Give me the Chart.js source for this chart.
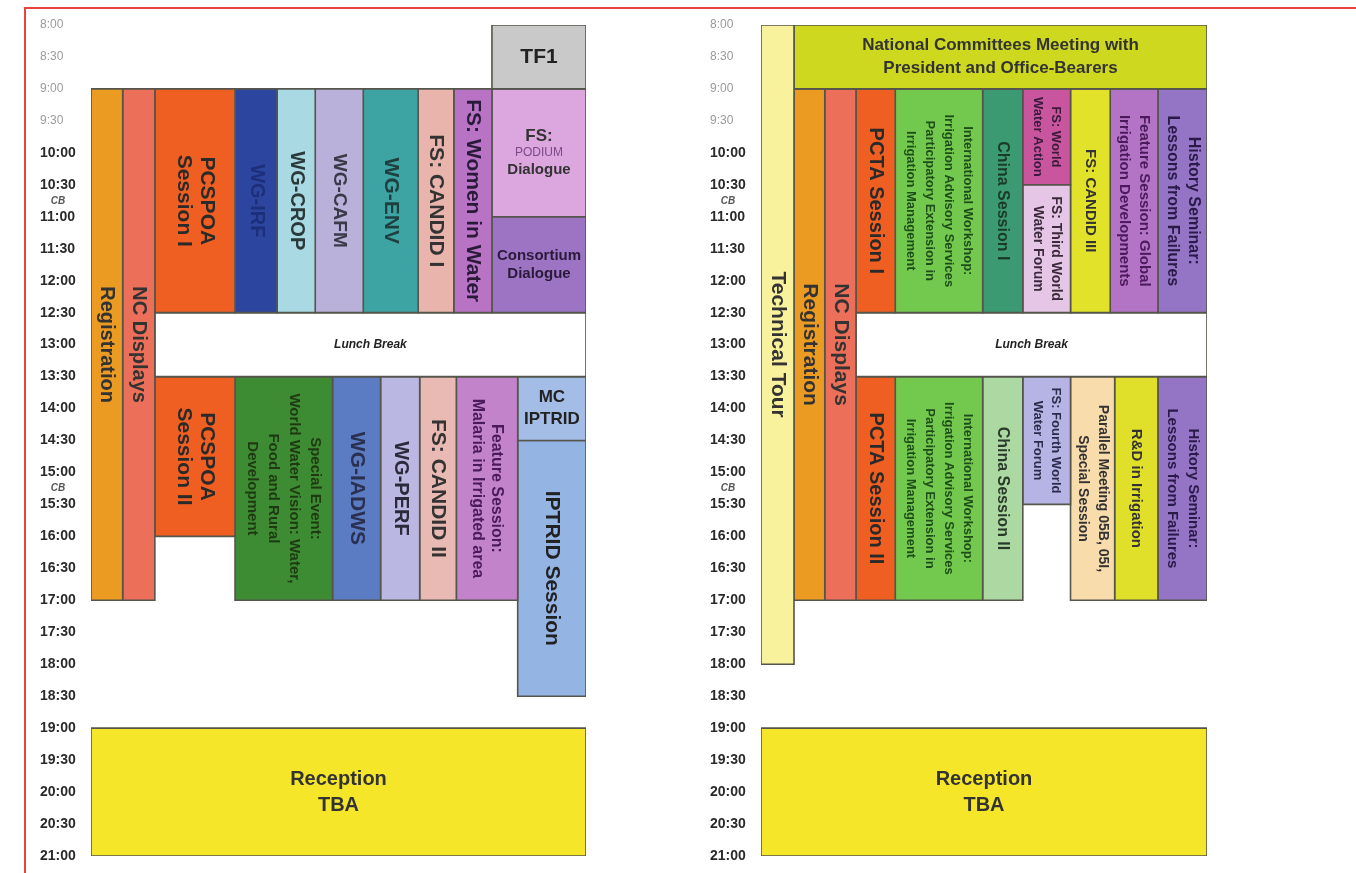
<!DOCTYPE html>
<html>
<head>
<meta charset="utf-8">
<title>Congress programme</title>
<script src="https://cdn.jsdelivr.net/npm/chart.js@4.4.1/dist/chart.umd.min.js"></script>
<style>
    html, body { margin: 0 ; padding: 0 ; background: #ffffff ; }
    body { width: 1356px ; height: 873px ; position: relative ; overflow: hidden ; }
    #frame { position: absolute ; left: 24px ; top: 7px ; width: 1340px ; height: 880px ;
             border-top: 2px solid #e5453b ; border-left: 2px solid #e5453b ; }
    .panel { position: absolute ; top: 5px ; height: 860px ; }
    #leftPanel  { left: 28px  ; width: 562px ; }
    #rightPanel { left: 698px ; width: 513px ; }
</style>
</head>
<body>
<div id="frame"></div>
<div class="panel" id="leftPanel"><canvas id="leftCanvas"></canvas></div>
<div class="panel" id="rightPanel"><canvas id="rightCanvas"></canvas></div>
<script>

// ---------------- Schedule data ----------------------------------------------
// Times are decimal hours, columns are percent of the day's width.
var dayStart = 8 ;
var dayEnd   = 21 ;
var coffeeBreaks = [ 10.75, 15.25 ] ;

// --- Day one (left)
var leftSessions = [
    'TF1', 'Registration', 'NC Displays', 'PCSPOA\nSession I', 'WG-IRF',
    'WG-CROP', 'WG-CAFM', 'WG-ENV', 'FS: CANDID I', 'FS: Women in Water',
    'FS:\nPODIUM\nDialogue', 'Consortium\nDialogue', 'Lunch Break', 'PCSPOA\nSession II',
    'Special Event:\nWorld Water Vision: Water,\nFood and Rural\nDevelopment',
    'WG-IADWS', 'WG-PERF', 'FS: CANDID II', 'Feature Session:\nMalaria in Irrigated area',
    'MC\nIPTRID', 'IPTRID Session', 'Reception\nTBA'
] ;
var leftStart = [ 8, 9, 9, 9, 9, 9, 9, 9, 9, 9, 9, 11, 12.5, 13.5, 13.5, 13.5, 13.5, 13.5, 13.5, 13.5, 14.5, 19 ] ;
var leftEnd   = [ 9, 17, 17, 12.5, 12.5, 12.5, 12.5, 12.5, 12.5, 12.5, 11, 12.5, 13.5, 16, 17, 17, 17, 17, 17, 14.5, 18.5, 21 ] ;
var leftFrom  = [ 81.0, 0, 6.4, 12.9, 29.1, 37.6, 45.3, 55.0, 66.1, 73.3, 81.0, 81.0, 12.9, 12.9, 29.1, 48.8, 58.5, 66.4, 73.8, 86.2, 86.2, 0 ] ;
var leftTo    = [ 100, 6.4, 12.9, 29.1, 37.6, 45.3, 55.0, 66.1, 73.3, 81.0, 100, 100, 100, 29.1, 48.8, 58.5, 66.4, 73.8, 86.2, 100, 100, 100 ] ;

// --- Day two (right)
var workshop = 'International Workshop:\nIrrigation Advisory Services\nParticipatory Extension in\nIrrigation Management' ;
var rightSessions = [
    'Technical Tour', 'National Committees Meeting with\nPresident and Office-Bearers',
    'Registration', 'NC Displays', 'PCTA Session I', workshop, 'China Session I',
    'FS: World\nWater Action', 'FS: Third World\nWater Forum', 'FS: CANDID III',
    'Feature Session: Global\nIrrigation Developments', 'History Seminar:\nLessons from Failures',
    'Lunch Break', 'PCTA Session II', workshop, 'China Session II',
    'FS: Fourth World\nWater Forum', 'Parallel Meeting 05B, 05I,\nSpecial Session',
    'R&D in Irrigation', 'History Seminar:\nLessons from Failures', 'Reception\nTBA'
] ;
var rightStart = [ 8, 8, 9, 9, 9, 9, 9, 9, 10.5, 9, 9, 9, 12.5, 13.5, 13.5, 13.5, 13.5, 13.5, 13.5, 13.5, 19 ] ;
var rightEnd   = [ 18, 9, 17, 17, 12.5, 12.5, 12.5, 10.5, 12.5, 12.5, 12.5, 12.5, 13.5, 17, 17, 17, 15.5, 17, 17, 17, 21 ] ;
var rightFrom  = [ 0, 7.4, 7.4, 14.3, 21.3, 30.1, 49.7, 58.7, 58.7, 69.4, 78.3, 89.0, 21.3, 21.3, 30.1, 49.7, 58.7, 69.4, 79.3, 89.0, 0 ] ;
var rightTo    = [ 7.4, 100, 14.3, 21.3, 30.1, 49.7, 58.7, 69.4, 69.4, 78.3, 89.0, 100, 100, 30.1, 49.7, 58.7, 69.4, 79.3, 89.0, 100, 100 ] ;

// ---------------- Styles -----------------------------------------------------
var FAMILY = '"Liberation Sans", Arial, sans-serif' ;
var EDGE   = '#55554c' ;

var leftFill = [ '#c9c9c9', '#eb9a22', '#ec6f5a', '#ef5f22', '#2c46a0', '#a9d9e2', '#b9b1d9',
                 '#3ea3a3', '#e8b4ac', '#b873c4', '#dca6de', '#9d74c4', '#ffffff', '#ef5f22',
                 '#3d8b32', '#5b7bc2', '#bab8e2', '#e9b9b3', '#c283cb', '#a3bde6', '#94b4e4', '#f6e62a' ] ;
var leftInk  = [ '#222', '#333', '#333', '#2a2a2a', '#1d2f7a', '#2a3a3a', '#3a3a4a', '#1f3f3f',
                 '#333', '#2a1a3a', [ '#333', '#7a4a8a', '#333' ], '#2a1a3a', '#222', '#2a2a2a',
                 '#1f3a12', '#2a3050', '#2a2a3a', '#333', '#4a1a5a', '#222', '#222', '#333' ] ;
var leftFont = [ 'bold 21px', 'bold 20px', 'bold 20px', 'bold 21px', 'bold 20px', 'bold 20px',
                 'bold 19px', 'bold 21px', 'bold 21px', 'bold 21px',
                 [ 'bold 17px', '12px', 'bold 15px' ], 'bold 15px', 'italic bold 12px',
                 'bold 21px', 'bold 15px', 'bold 21px', 'bold 20px', 'bold 21px', 'bold 16px',
                 'bold 17px', 'bold 21px', 'bold 20px' ] ;
var leftLead = [ 0, 0, 0, 23, 0, 0, 0, 0, 0, 0, 17, 18, 0, 23, 21, 0, 0, 0, 19, 22, 0, 26 ] ;
var leftTurn = [ false, true, true, true, true, true, true, true, true, true, false, false,
                 false, true, true, true, true, true, true, false, true, false ] ;

var rightFill = [ '#f8f29c', '#cdd81e', '#eb9a22', '#ec6f5a', '#ef5f22', '#72c94e', '#3b9a72',
                  '#c8559e', '#e6c6e6', '#e2e22a', '#b374c6', '#9474c4', '#ffffff', '#ef5f22',
                  '#72c94e', '#acd9a2', '#b6b4e4', '#f8dcac', '#e0e02a', '#9474c4', '#f6e62a' ] ;
var rightInk  = [ '#333', '#333', '#333', '#333', '#2a2a2a', '#1f4d1a', '#1a3a2a', '#3a1a3a',
                  '#3a2a3a', '#333', '#4a1a5a', '#2a1a4a', '#222', '#2a2a2a', '#1f4d1a',
                  '#2a3a2a', '#2a2a4a', '#333', '#333', '#2a1a4a', '#333' ] ;
var rightFont = [ 'bold 21px', 'bold 17px', 'bold 21px', 'bold 21px', 'bold 20px', 'bold 13px',
                  'bold 16px', 'bold 13px', 'bold 14px', 'bold 15px', 'bold 15px', 'bold 16px',
                  'italic bold 12px', 'bold 20px', 'bold 13px', 'bold 16px', 'bold 13px',
                  'bold 14px', 'bold 15px', 'bold 15px', 'bold 20px' ] ;
var rightLead = [ 0, 23, 0, 0, 0, 19, 0, 18, 18, 0, 20, 21, 0, 0, 19, 0, 18, 20, 0, 21, 26 ] ;
var rightTurn = [ true, false, true, true, true, true, true, true, true, true, true, true,
                  false, true, true, true, true, true, true, true, false ] ;

// ---------------- Chart helpers ----------------------------------------------
function buildDatasets( starts, ends, froms, tos, fills ) {

    var sets = [] ;
    for( var i=0; i<starts.length; i++ ) {
        sets.push( {
            data : [
                { x : froms[i], y : starts[i] },
                { x : tos[i],   y : starts[i] },
                { x : tos[i],   y : ends[i]   },
                { x : froms[i], y : ends[i]   },
                { x : froms[i], y : starts[i] }
            ],
            fill            : 'shape',
            backgroundColor : fills[i],
            borderColor     : EDGE,
            borderWidth     : 1.6,
            borderJoinStyle : 'miter',
            pointRadius     : 0,
            tension         : 0
        } ) ;
    }
    return sets ;
}

function makeLabelPlugin( labels, starts, ends, froms, tos, fonts, inks, leads, turns ) {

    return {
        id : 'blockLabels',
        afterDatasetsDraw : function( chart ) {

            var ctx = chart.ctx ;
            var xs  = chart.scales.x ;
            var ys  = chart.scales.y ;

            for( var i=0; i<labels.length; i++ ) {
                var cx = ( xs.getPixelForValue( froms[i] ) + xs.getPixelForValue( tos[i] ) ) / 2 ;
                var cy = ( ys.getPixelForValue( starts[i] ) + ys.getPixelForValue( ends[i] ) ) / 2 ;
                var lines = labels[i].split( '\n' ) ;

                ctx.save() ;
                ctx.translate( cx, cy ) ;
                if( turns[i] ) {
                    ctx.rotate( Math.PI / 2 ) ;
                }
                ctx.textAlign = 'center' ;
                ctx.textBaseline = 'middle' ;
                for( var k=0; k<lines.length; k++ ) {
                    var f = Array.isArray( fonts[i] ) ? fonts[i][k] : fonts[i] ;
                    var c = Array.isArray( inks[i] )  ? inks[i][k]  : inks[i] ;
                    ctx.font = f + ' ' + FAMILY ;
                    ctx.fillStyle = c ;
                    ctx.fillText( lines[k], 0, ( k - ( lines.length - 1 ) / 2 ) * leads[i] ) ;
                }
                ctx.restore() ;
            }

            // coffee break marks under the time labels
            ctx.save() ;
            ctx.font = 'italic bold 10px ' + FAMILY ;
            ctx.fillStyle = '#555' ;
            ctx.textAlign = 'center' ;
            ctx.textBaseline = 'middle' ;
            for( var j=0; j<coffeeBreaks.length; j++ ) {
                ctx.fillText( 'CB', ys.left + 18, ys.getPixelForValue( coffeeBreaks[j] ) ) ;
            }
            ctx.restore() ;
        }
    } ;
}

function timeLabel( value ) {
    var h = Math.floor( value ) ;
    return h + ':' + ( value - h > 0 ? '30' : '00' ) ;
}

function getChartOptions() {

    return {
        responsive          : true,
        maintainAspectRatio : false,
        animation           : false,
        events              : [],
        layout : { padding : { left : 12, right : 4, top : 20, bottom : 9 } },
        plugins : {
            legend  : { display : false },
            tooltip : { enabled : false }
        },
        scales : {
            x : { type : 'linear', min : 0, max : 100, display : false },
            y : {
                type    : 'linear',
                min     : dayStart,
                max     : dayEnd,
                reverse : true,
                afterFit : function( scale ) { scale.width = 51 ; },
                grid   : { display : false },
                border : { display : false },
                ticks  : {
                    stepSize   : 0.5,
                    autoSkip   : false,
                    crossAlign : 'far',
                    padding    : 0,
                    callback   : function( value ) { return timeLabel( value ) ; },
                    color : function( c ) {
                        return ( c.tick && c.tick.value < 10 ) ? '#9a9a9a' : '#2a2a2a' ;
                    },
                    font : function( c ) {
                        if( c.tick && c.tick.value < 10 ) {
                            return { family : FAMILY, size : 12 } ;
                        }
                        return { family : FAMILY, size : 14, weight : 'bold' } ;
                    }
                }
            }
        }
    } ;
}

function drawDay( canvasId, labels, starts, ends, froms, tos, fills, fonts, inks, leads, turns ) {

    var canvas = document.getElementById( canvasId ) ;
    return new Chart( canvas, {
        type : 'line',
        data : { datasets : buildDatasets( starts, ends, froms, tos, fills ) },
        options : getChartOptions(),
        plugins : [ makeLabelPlugin( labels, starts, ends, froms, tos, fonts, inks, leads, turns ) ]
    } ) ;
}

drawDay( 'leftCanvas', leftSessions, leftStart, leftEnd, leftFrom, leftTo,
         leftFill, leftFont, leftInk, leftLead, leftTurn ) ;
drawDay( 'rightCanvas', rightSessions, rightStart, rightEnd, rightFrom, rightTo,
         rightFill, rightFont, rightInk, rightLead, rightTurn ) ;

</script>
</body>
</html>
